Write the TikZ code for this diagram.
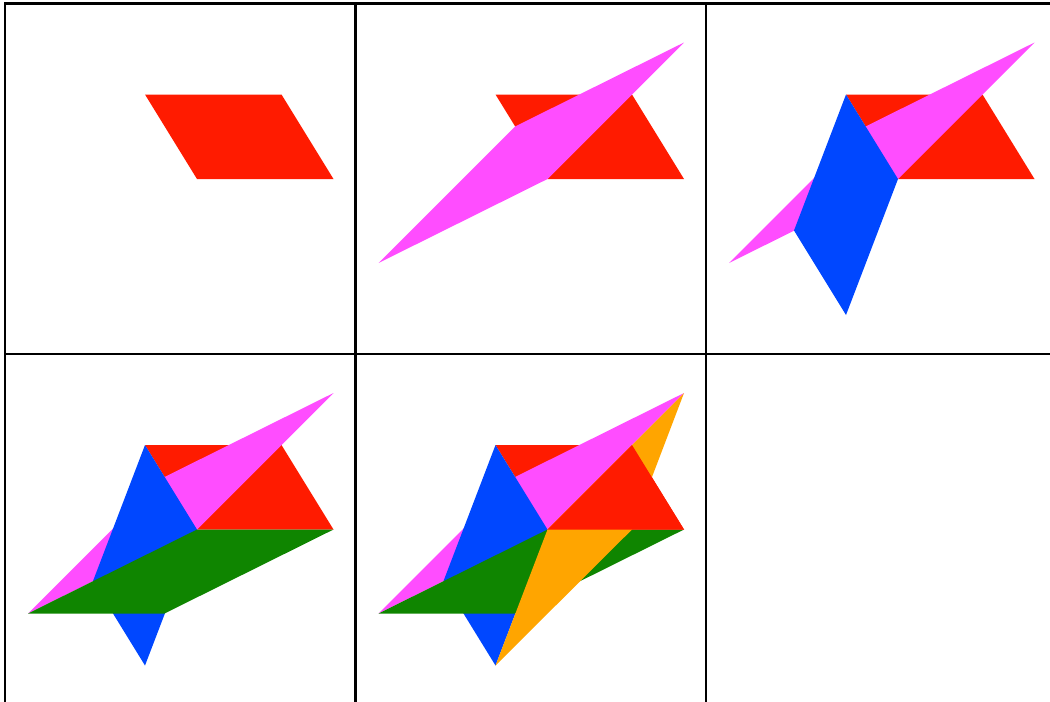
\documentclass[tikz,border=0pt]{standalone}
\usepackage{tikz}

\definecolor{pcred}{RGB}{255,27,0}
\definecolor{pcpink}{RGB}{255,77,255}
\definecolor{pcblue}{RGB}{0,71,255}
\definecolor{pcgreen}{RGB}{15,133,0}
\definecolor{pcorange}{RGB}{255,165,0}

\newcommand{\redrhomb}{\fill[pcred] (192,175.5) -- (328.5,175.5) -- (276.5,91) -- (140,91) -- cycle;}
\newcommand{\pinkrhomb}{\fill[pcpink] (192,175.5) -- (328.5,39) -- (159.5,123) -- (23,259.5) -- cycle;}
\newcommand{\bluerhomb}{\fill[pcblue] (192,175.5) -- (140,91) -- (88,227) -- (140,311.5) -- cycle;}
\newcommand{\greenrhomb}{\fill[pcgreen] (192,175.5) -- (328.5,175.5) -- (159.5,259.5) -- (23,259.5) -- cycle;}
\newcommand{\orangerhomb}{\fill[pcorange] (192,175.5) -- (328.5,39) -- (276.5,175.5) -- (140,311.5) -- cycle;}

\begin{document}
\begin{tikzpicture}[x=0.02cm,y=-0.02cm]
\useasboundingbox (0,0) rectangle (1050,701);
\clip (0,0) rectangle (1050,701);
\foreach \col/\row/\k in {0/0/1,1/0/2,2/0/3,0/1/4,1/1/5,2/1/0} {
  \begin{scope}[shift={(5+350.5*\col,3.5+350.5*\row)}]
    \ifnum\k>0 \redrhomb\fi
    \ifnum\k>1 \pinkrhomb\fi
    \ifnum\k>2 \bluerhomb\fi
    \ifnum\k>3 \greenrhomb\fi
    \ifnum\k>4 \orangerhomb
      \fill[pcred] (192,175.5) -- (328.5,175.5) -- (276.5,91) -- cycle;
    \fi
    \draw[line width=1.3pt] (0,0) rectangle (350.5,350.5);
  \end{scope}
}
\end{tikzpicture}
\end{document}
